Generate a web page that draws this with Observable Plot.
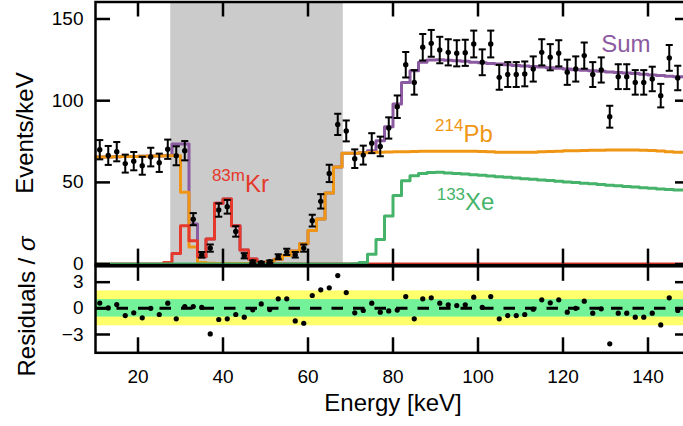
<!DOCTYPE html>
<html>
<head>
<meta charset="utf-8">
<script src="https://cdn.jsdelivr.net/npm/d3@7"></script>
<script src="https://cdn.jsdelivr.net/npm/@observablehq/plot@0.6"></script>
<style>
  html, body { margin: 0; padding: 0; background: #fff; }
  #chart { position: relative; width: 683px; height: 426px; overflow: hidden; font-family: "Liberation Sans", Arial, sans-serif; }
  #chart svg { position: absolute; left: 0; }
</style>
</head>
<body>
<div id="chart"></div>
<script>
// Bin centres (keV); bins are 2 keV wide
const energy = [11,13,15,17,19,21,23,25,27,29,31,33,35,37,39,41,43,45,47,49,51,53,55,57,59,61,63,65,67,69,71,73,75,77,79,81,83,85,87,89,91,93,95,97,99,101,103,105,107,109,111,113,115,117,119,121,123,125,127,129,131,133,135,137,139,141,143,145,147];

// Measured rate (events/keV) and its uncertainty
const counts = [70.0,66.5,68.8,61.5,63.0,60.2,65.5,62.0,70.3,66.3,
  69.4,27.5,5.7,9.8,33.1,35.1,20.0,5.1,1.4,0.8,
  1.4,4.5,7.5,5.7,9.8,26.6,38.4,55.5,85.5,81.5,
  64.5,66.7,74.0,72.0,83.3,96.3,122.0,111.2,132.7,135.1,
  131.0,129.6,129.0,129.3,134.7,123.5,134.7,114.3,116.0,116.0,
  116.4,119.4,129.6,126.6,129.0,117.4,119.4,127.6,116.0,118.8,
  90.2,114.7,114.7,111.2,111.2,113.3,103.1,126.2,113.9];
const countErr = [5.9,5.8,5.9,5.5,5.6,5.5,5.7,5.6,5.9,5.8,
  5.9,3.7,1.7,2.2,4.1,4.2,3.2,1.6,0.8,0.6,
  0.8,1.5,1.9,1.7,2.2,3.6,4.4,5.3,6.5,6.4,
  5.7,5.8,6.1,6.0,6.5,6.9,7.8,7.5,8.1,8.2,
  8.1,8.0,8.0,8.0,8.2,7.9,8.2,7.6,7.6,7.6,
  7.6,7.7,8.0,8.0,8.0,7.7,7.7,8.0,7.6,7.7,
  6.7,7.6,7.6,7.5,7.5,7.5,7.2,7.9,7.5];

// Normalised residuals (data - model) / sigma
const residuals = [0.6,0.05,0.43,-0.83,-0.52,-1.09,0.0,-0.71,0.59,-1.2,
  0.2,0.2,0.1,-2.93,-1.28,-1.2,-0.71,-1.02,-0.17,0.51,
  -0.14,1.09,1.09,-1.44,-1.71,1.47,2.12,2.35,3.76,1.81,
  -0.52,-0.25,0.59,-0.44,-0.3,-0.2,1.35,-1.2,1.09,1.2,
  0.59,0.4,0.32,0.4,1.28,0.1,1.35,-1.2,-0.83,-0.83,
  -0.71,-0.1,0.97,0.63,0.97,-0.44,0.0,0.82,-0.56,-0.06,
  -4.07,-0.56,-0.56,-1.02,-1.02,-0.56,-1.9,1.2,-0.25];

// Fitted model components per bin
const modelSum = [65.6,65.6,65.7,65.8,65.9,66.0,66.1,66.2,66.5,73.5,
  73.5,24.5,4.5,15.4,37.2,39.8,23.5,8.6,3.1,0.7,
  1.3,3.0,5.3,8.0,12.5,20.5,27.6,43.5,59.4,67.8,
  67.9,68.3,69.4,75.5,84.0,98.0,111.2,118.4,123.5,124.9,
  125.0,124.8,124.5,124.1,123.6,123.2,122.8,122.4,122.0,121.6,
  121.2,120.9,120.6,120.2,119.8,119.4,119.0,118.6,118.3,118.0,
  117.6,117.3,117.0,116.6,116.2,115.8,115.4,115.0,114.6];
const modelPb214 = [65.6,65.6,65.7,65.8,65.9,66.0,66.1,66.2,66.3,66.3,
  44.0,10.5,1.0,0.5,0.4,0.4,0.4,0.4,0.5,0.7,
  1.3,3.0,5.3,8.0,12.5,20.5,27.6,43.5,59.4,67.8,
  67.9,68.1,68.3,68.5,68.6,68.7,68.8,68.9,69.0,69.1,
  69.1,69.1,69.1,69.0,69.0,68.9,68.7,68.5,68.4,68.4,
  68.4,68.5,68.7,68.9,69.1,69.3,69.4,69.5,69.6,69.7,
  69.8,69.8,69.8,69.8,69.7,69.5,69.2,68.8,68.5];
const modelKr83m = [0,0,0,0,0,0,0,0,1.0,6.5,
  23.5,14.3,4.5,15.4,37.2,39.8,23.5,8.6,3.1,0.6,
  0.2,0.1,0.1,0.1,0.1,0,0,0,0,0,
  0,0,0,0,0,0,0,0,0,0,
  0,0,0,0,0,0,0,0,0,0,
  0,0,0,0,0,0,0,0,0,0,
  0,0,0,0,0,0,0,0,0];
const modelXe133 = [0,0,0,0,0,0,0,0,0,0,
  0,0,0,0,0,0,0,0,0,0,
  0,0,0,0,0,0,0,0,0,0,
  0.2,1.0,6.0,15.0,29.5,42.0,51.0,54.0,55.5,56.0,
  56.2,55.8,55.5,55.1,54.7,54.3,53.9,53.5,53.1,52.7,
  52.3,51.9,51.5,51.1,50.7,50.3,49.9,49.5,49.1,48.7,
  48.3,47.9,47.5,47.2,46.8,46.4,46.0,45.6,45.3];

// Axis settings
const xDomain = [10, 150];
const countDomain = [0, 160.4];
const residualDomain = [-5.1, 4.82];
const xTicks = [20, 40, 60, 80, 100, 120, 140];
const countTicks = [0, 50, 100, 150];
const residualTicks = [-3, 0, 3];
const sigmaBands = [{lo: -2, hi: 2, color: "#ffff6b"}, {lo: -1, hi: 1, color: "#74f29a"}];
const fitExclusion = [{lo: 27.7, hi: 68.3}];

const colors = {sum: "#8c5aa0", pb: "#ef9614", kr: "#e5392b", xe: "#46b36a"};
const labels = [
  {sup: "", name: "Sum", x: 129.1, y: 129.6, color: colors.sum},
  {sup: "214", name: "Pb", x: 90.0, y: 74.5, color: colors.pb},
  {sup: "133", name: "Xe", x: 90.4, y: 32.7, color: colors.xe},
  {sup: "83m", name: "Kr", x: 37.5, y: 43.9, color: colors.kr}
];

// ---- layout ----
const W = 691, ML = 95, MR = 1, TICK = 15;
const plotW = W - ML - MR;
const FONT = '"Liberation Sans", Arial, sans-serif';
const baseStyle = {background: "transparent", overflow: "visible", maxWidth: "none", fontFamily: FONT, fontSize: "19px", color: "black"};

const half = (energy[1] - energy[0]) / 2;
function stepPoints(values) {
  const pts = energy.map((e, i) => ({x: e - half, y: values[i]}));
  pts.push({x: xDomain[1], y: values[values.length - 1]});
  return pts;
}
const points = energy.map((e, i) => ({e, v: counts[i], err: countErr[i], r: residuals[i]}));

// horizontal bar used as error-bar cap
const capSymbol = {draw(ctx, size) { const w = Math.sqrt(size); ctx.moveTo(-w, 0); ctx.lineTo(w, 0); }};

function inwardTicks(plotH, yTicks) {
  return [
    Plot.ruleX(xTicks, {x: d => d, insetTop: plotH - TICK, stroke: "black", strokeWidth: 2.5}),
    Plot.ruleX(xTicks, {x: d => d, insetBottom: plotH - TICK, stroke: "black", strokeWidth: 2.5}),
    Plot.ruleY(yTicks, {y: d => d, insetRight: plotW - TICK, stroke: "black", strokeWidth: 2.5}),
    Plot.ruleY(yTicks, {y: d => d, insetLeft: plotW - TICK, stroke: "black", strokeWidth: 2.5})
  ];
}
const step = (values, stroke) => Plot.line(stepPoints(values), {x: "x", y: "y", curve: "step-after", stroke, strokeWidth: 3});

// ---- spectrum panel ----
const topHeight = 266, topMT = 1.5, topMB = 2.4;
const topPlotH = topHeight - topMT - topMB;
const topPlot = Plot.plot({
  width: W, height: topHeight,
  marginLeft: ML, marginRight: MR, marginTop: topMT, marginBottom: topMB,
  style: baseStyle,
  x: {domain: xDomain, axis: null},
  y: {domain: countDomain},
  marks: [
    Plot.rect(fitExclusion, {x1: "lo", x2: "hi", y1: countDomain[0], y2: countDomain[1], fill: "#cbcbcb"}),
    step(modelSum, colors.sum),
    step(modelPb214, colors.pb),
    step(modelKr83m, colors.kr),
    step(modelXe133, colors.xe),
    Plot.ruleX(points, {x: "e", y1: d => d.v - d.err, y2: d => d.v + d.err, stroke: "black", strokeWidth: 2}),
    Plot.dot(points, {x: "e", y: d => d.v - d.err, symbol: capSymbol, r: 2, fill: "none", stroke: "black", strokeWidth: 2}),
    Plot.dot(points, {x: "e", y: d => d.v + d.err, symbol: capSymbol, r: 2, fill: "none", stroke: "black", strokeWidth: 2}),
    Plot.dot(points, {x: "e", y: "v", r: 2.7, fill: "black"}),
    Plot.frame({stroke: "black", strokeWidth: 2.5, insetBottom: -1}),
    ...inwardTicks(topPlotH, countTicks),
    Plot.axisY({ticks: countTicks, tickSize: 0, tickPadding: 12, label: null}),
    Plot.text(["Events/keV"], {text: d => d, frameAnchor: "left", rotate: -90, dx: -70, textAnchor: "middle", lineAnchor: "middle", fontSize: 24})
  ]
});

// ---- residual panel ----
const botTop = 253, botHeight = 173, botMT = 12.8, botMB = 73.7;
const botPlotH = botHeight - botMT - botMB;
const botPlot = Plot.plot({
  width: W, height: botHeight,
  marginLeft: ML, marginRight: MR, marginTop: botMT, marginBottom: botMB,
  style: baseStyle,
  x: {domain: xDomain},
  y: {domain: residualDomain},
  marks: [
    Plot.rect(sigmaBands, {x1: xDomain[0], x2: xDomain[1], y1: "lo", y2: "hi", fill: "color"}),
    Plot.ruleY([0], {stroke: "black", strokeWidth: 3, strokeDasharray: "11.5,10"}),
    Plot.dot(points, {x: "e", y: "r", r: 2.6, fill: "black"}),
    Plot.frame({stroke: "black", strokeWidth: 2.5}),
    ...inwardTicks(botPlotH, residualTicks),
    Plot.axisY({ticks: residualTicks, tickSize: 0, tickPadding: 12, label: null,
      tickFormat: d => d < 0 ? "\u2212" + Math.abs(d) : String(d)}),
    Plot.axisX({ticks: xTicks, tickSize: 0, tickPadding: 17, label: null}),
    Plot.text(["Energy [keV]"], {text: d => d, frameAnchor: "bottom", lineAnchor: "bottom", dy: 58, fontSize: 24}),
    Plot.text(["Residuals / \u03c3"], {text: d => d, frameAnchor: "left", rotate: -90, dx: -67.7, dy: -3, textAnchor: "middle", lineAnchor: "middle", fontSize: 24})
  ]
});

const chart = document.getElementById("chart");
topPlot.style.top = "0px";
botPlot.style.top = botTop + "px";
chart.appendChild(topPlot);
chart.appendChild(botPlot);

// italic sigma in the residual axis title
d3.select(botPlot).selectAll("text")
  .filter(function () { return this.textContent === "Residuals / \u03c3"; })
  .each(function () {
    const t = d3.select(this);
    t.text("Residuals / ");
    t.append("tspan").attr("font-style", "italic").text("\u03c3");
  });

// component labels with isotope superscripts
const sx = topPlot.scale("x"), sy = topPlot.scale("y");
const g = d3.select(topPlot).append("g").attr("font-family", FONT).attr("text-anchor", "start");
for (const a of labels) {
  const t = g.append("text")
    .attr("x", sx.apply(a.x)).attr("y", sy.apply(a.y))
    .attr("text-anchor", "start")
    .attr("fill", a.color).attr("font-size", 24);
  if (a.sup) {
    t.append("tspan").attr("font-size", 17).attr("dy", -10.5).text(a.sup);
    t.append("tspan").attr("dy", 10.5).text(a.name);
  } else {
    t.text(a.name);
  }
}
</script>
</body>
</html>
